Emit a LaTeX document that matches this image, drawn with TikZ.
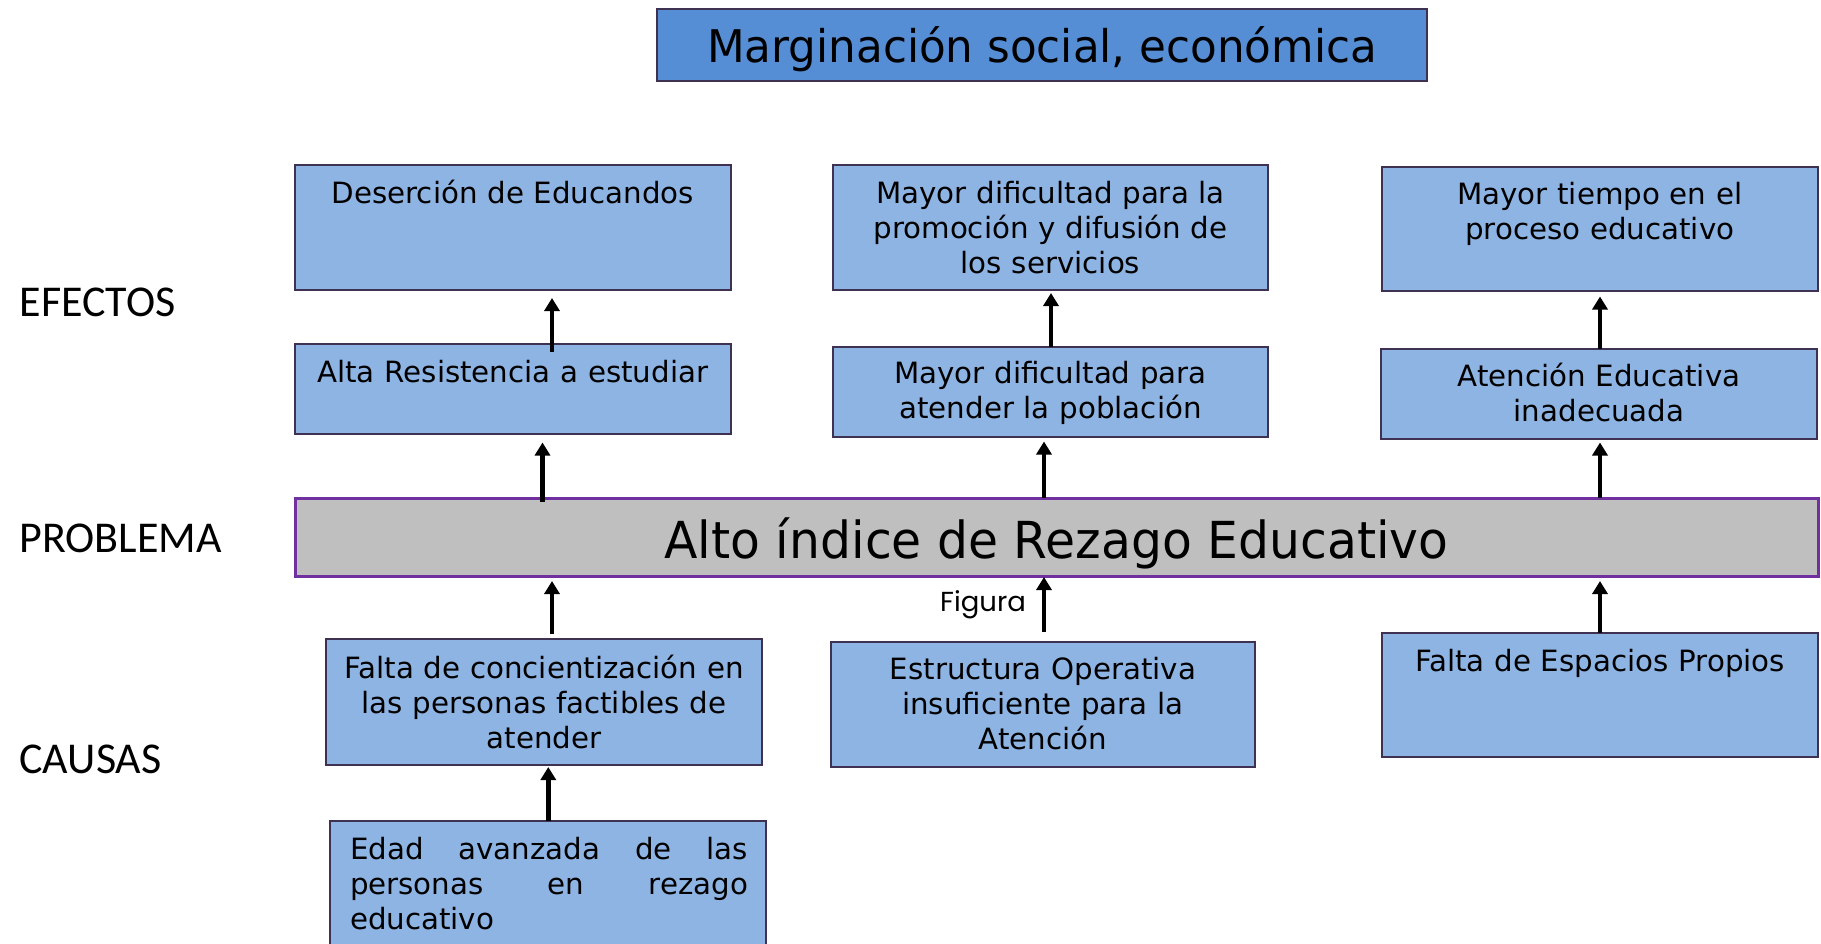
\documentclass[tikz,border=0pt]{standalone}
\usepackage{fontspec}
\setmainfont{DejaVu Sans}
\newfontfamily\boxfont{DejaVu Sans}
\newfontfamily\titlefont[FakeStretch=0.97]{DejaVu Sans}
\newfontfamily\probfont[FakeStretch=0.957]{DejaVu Sans}
\newfontfamily\sidefont{Carlito}
\newfontfamily\figfont{Poppins}
\usetikzlibrary{arrows.meta,calc}
\definecolor{titleblue}{RGB}{85,142,213}
\definecolor{boxblue}{RGB}{142,180,227}
\definecolor{boxedge}{RGB}{63,49,81}
\definecolor{bargray}{RGB}{191,191,191}
\definecolor{baredge}{RGB}{112,48,160}
\begin{document}
\begin{tikzpicture}[x=1pt,y=-1pt,
  box/.style={draw=boxedge, line width=2pt, fill=boxblue, anchor=north west, inner sep=0pt, outer sep=0pt},
  boxtxt/.style={anchor=north, inner sep=0pt, align=center, font=\fontsize{29.3}{35}\boxfont, execute at begin node=\strut},
  arr/.style={line width=4.8pt, -{Triangle[length=13pt,width=15pt]}},
  side/.style={anchor=base west, font=\fontsize{44}{50}\sidefont},
]
\useasboundingbox (0,0) rectangle (1821,943);

% title
\node[box, fill=titleblue, minimum width=770pt, minimum height=72.5pt] (T) at (657,8.5) {};
\node[anchor=base, inner sep=0pt, font=\fontsize{45}{50}\titlefont] (Tt) at (1042,62.3) {Marginación social, económica};

% side labels
\node[side] (ef) at (16,316.7) {EFECTOS};
\node[side] (pr) at (16,552.7) {PROBLEMA};
\node[side] (ca) at (16,773.3) {CAUSAS};

% effects row 1
\node[box, minimum width=435.5pt, minimum height=125pt] (A1) at (295,165) {};
\node[boxtxt, text width=420pt] (A1t) at ([yshift=-13.5pt]A1.north) {Deserción de Educandos};
\node[box, minimum width=435pt, minimum height=125pt] (B1) at (833,165) {};
\node[boxtxt, text width=420pt] (B1t) at ([yshift=-13.5pt]B1.north) {Mayor dificultad para la\\promoción y difusión de\\los servicios};
\node[box, minimum width=435.5pt, minimum height=124.5pt] (C1) at (1382,166.5) {};
\node[boxtxt, text width=420pt] (C1t) at ([yshift=-13.5pt]C1.north) {Mayor tiempo en el\\proceso educativo};

% effects row 2
\node[box, minimum width=435.5pt, minimum height=90pt] (A2) at (295,344) {};
\node[boxtxt, text width=420pt] (A2t) at ([yshift=-13.5pt]A2.north) {Alta Resistencia a estudiar};
\node[box, minimum width=435pt, minimum height=90pt] (B2) at (833,346.5) {};
\node[boxtxt, text width=420pt] (B2t) at ([yshift=-12.5pt]B2.north) {Mayor dificultad para\\atender la población};
\node[box, minimum width=436pt, minimum height=89.5pt] (C2) at (1381,349) {};
\node[boxtxt, text width=420pt] (C2t) at ([yshift=-13pt]C2.north) {Atención Educativa\\inadecuada};

% problem
\node[box, fill=bargray, draw=baredge, line width=3pt, minimum width=1523pt, minimum height=78pt] (P) at (295,498) {};
\node[anchor=base, inner sep=0pt, font=\fontsize{51}{56}\probfont] (Pt) at (1056.5,558.3) {Alto índice de Rezago Educativo};

% causes
\node[box, minimum width=436pt, minimum height=125.5pt] (D1) at (326,639) {};
\node[boxtxt, text width=420pt] (D1t) at ([yshift=-15pt]D1.north) {Falta de concientización en\\las personas factibles de\\atender};
\node[box, minimum width=424pt, minimum height=125pt] (E1) at (831,641.5) {};
\node[boxtxt, text width=410pt] (E1t) at ([yshift=-13.5pt]E1.north) {Estructura Operativa\\insuficiente para la\\Atención};
\node[box, minimum width=436pt, minimum height=124pt] (F1) at (1382,633) {};
\node[boxtxt, text width=420pt] (F1t) at ([yshift=-13.5pt]F1.north) {Falta de Espacios Propios};
\node[box, minimum width=436pt, minimum height=170pt] (G) at (330,821) {};
\node[boxtxt, align=left, text width=398pt] (Gt) at ([xshift=1pt,yshift=-13.5pt]G.north) {Edad\hfill avanzada\hfill de\hfill las\\personas\hfill en\hfill rezago\\educativo};

\node[anchor=base west, inner sep=0pt, font=\fontsize{27.5}{30}\figfont] (fig) at (940,611) {Figura};

% x positions of connectors
\coordinate (xa) at (552,0);
\coordinate (xb) at (542.5,0);
\coordinate (xc) at (1051,0);
\coordinate (xd) at (1044,0);
\coordinate (xe) at (1600,0);
\coordinate (xg) at (548.3,0);

% connectors
\draw[arr] ($(A2.north -| xa)+(0,8)$) -- ($(A1.south -| xa)+(0,8)$);
\draw[arr] ($(P.north -| xb)+(0,4)$) -- ($(A2.south -| xb)+(0,8.5)$);
\draw[arr] (B2.north -| xc) -- ($(B1.south -| xc)+(0,3)$);
\draw[arr] (P.north -| xd) -- ($(B2.south -| xd)+(0,5)$);
\draw[arr] (C2.north -| xe) -- ($(C1.south -| xe)+(0,5.5)$);
\draw[arr] (P.north -| xe) -- ($(C2.south -| xe)+(0,4)$);
\draw[arr] ($(D1.north -| xa)+(0,-5)$) -- ($(P.south -| xa)+(0,5)$);
\draw[arr] ($(E1.north -| xd)+(0,-10)$) -- ($(P.south -| xd)+(0,1)$);
\draw[arr] (F1.north -| xe) -- ($(P.south -| xe)+(0,5)$);
\draw[arr] (G.north -| xg) -- ($(D1.south -| xg)+(0,2.5)$);
\end{tikzpicture}
\end{document}
